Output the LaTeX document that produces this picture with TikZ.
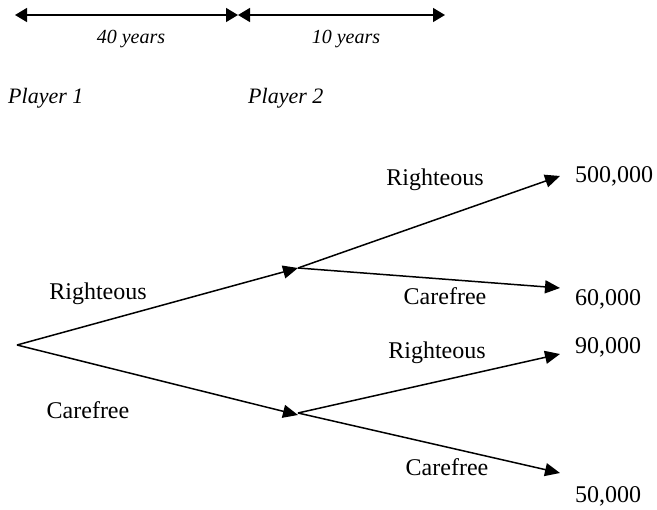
\documentclass[tikz,border=0pt]{standalone}
\usepackage{fontspec}
\setmainfont{Liberation Serif}
\usetikzlibrary{arrows.meta}
\begin{document}
\begin{tikzpicture}[x=1pt,y=-1pt,
  conn/.style={line width=1.5pt,-{Triangle[length=15pt,width=13pt]}},
  span/.style={line width=1.5pt,{Triangle[length=12pt,width=14pt]}-{Triangle[length=12pt,width=14pt]}},
  lbl/.style={font=\fontsize{24}{28}\selectfont,inner sep=0pt},
  ilbl/.style={font=\fontsize{20}{24}\selectfont\itshape,inner sep=0pt},
  plbl/.style={font=\fontsize{22}{26}\selectfont\itshape,inner sep=0pt}]
\useasboundingbox (0,0) rectangle (657,510);
% time spans
\coordinate (t0) at (15,15);
\coordinate (t1) at (238,15);
\coordinate (t2) at (445,15);
\draw[span] (t0) -- (t1);
\draw[span] (t1) -- (t2);
\node[ilbl] (y40) at (131,39) {40 years};
\node[ilbl] (y10) at (346,39) {10 years};
\node[plbl,anchor=west] (p1) at (8,98) {Player 1};
\node[plbl,anchor=west] (p2) at (248,98) {Player 2};
% tree
\coordinate (root) at (17,345);
\coordinate (a) at (298,268);
\coordinate (b) at (298,415);
\coordinate (a1) at (298,268);
\coordinate (b1) at (298,413);
\coordinate (aa) at (560,176);
\coordinate (ab) at (560,288);
\coordinate (ba) at (560,354);
\coordinate (bb) at (560,473);
\draw[conn] (root) -- (a);
\draw[conn] (root) -- (b);
\draw[conn] (a1) -- (aa);
\draw[conn] (a1) -- (ab);
\draw[conn] (b1) -- (ba);
\draw[conn] (b1) -- (bb);
\node[lbl] (r1) at (98,294) {Righteous};
\node[lbl] (c1) at (88,410) {Carefree};
\node[lbl] (r2) at (435,180) {Righteous};
\node[lbl] (c2) at (445,296) {Carefree};
\node[lbl] (r3) at (437,353) {Righteous};
\node[lbl] (c3) at (447,467) {Carefree};
\node[lbl,anchor=west] (v1) at (575,176) {500,000};
\node[lbl,anchor=west] (v2) at (575,299) {60,000};
\node[lbl,anchor=west] (v3) at (575,347) {90,000};
\node[lbl,anchor=west] (v4) at (575,496) {50,000};
\end{tikzpicture}
\end{document}
